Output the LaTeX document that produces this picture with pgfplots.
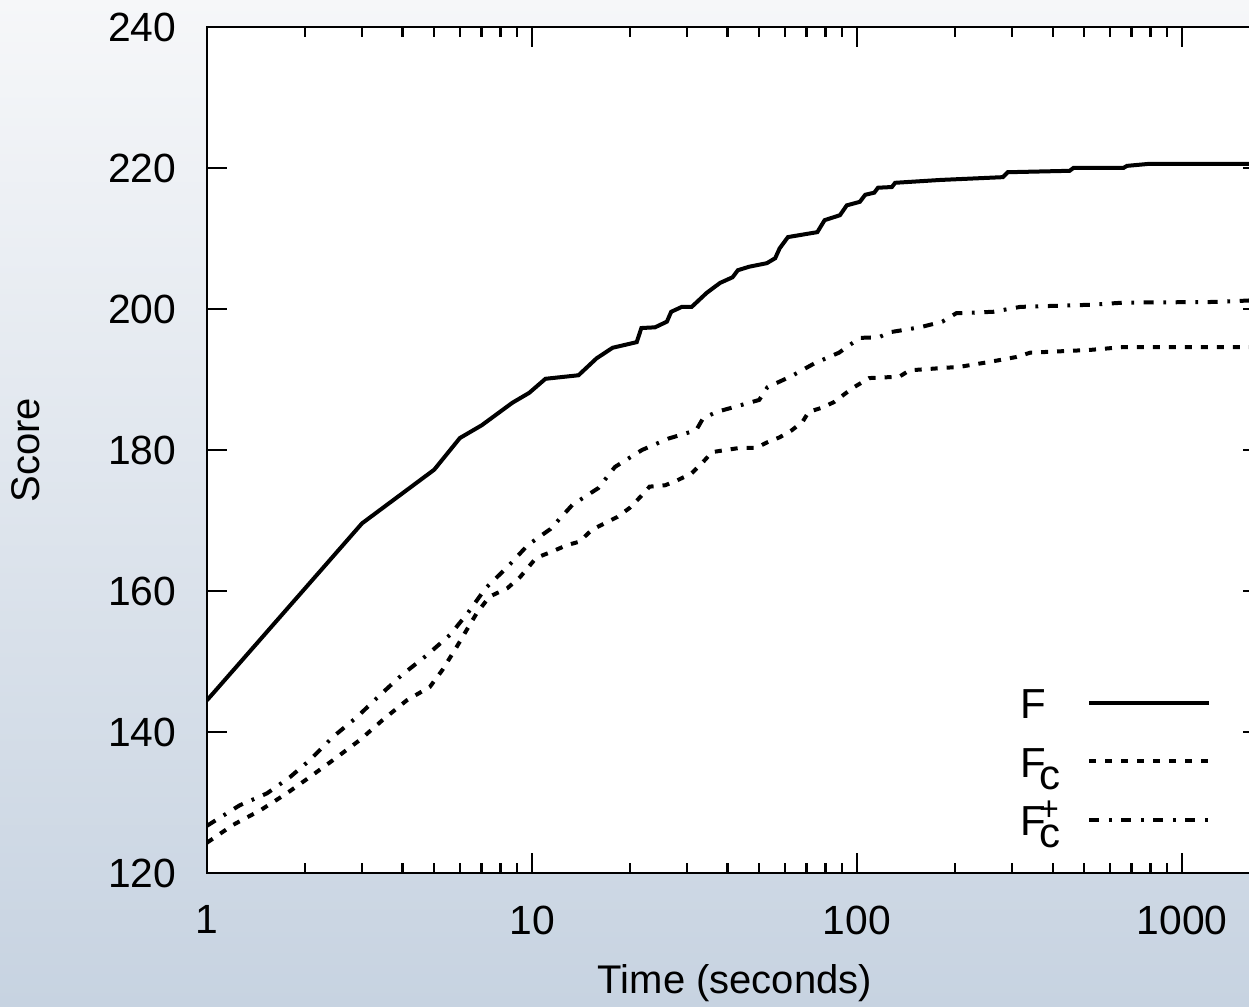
\documentclass[border=0pt]{standalone}
\usepackage{fontspec}
\setmainfont{Liberation Sans}
\usepackage{pgfplots}
\pgfplotsset{compat=1.18}
\usetikzlibrary{calc}
\pgfdeclarelayer{background}
\pgfsetlayers{background,main}
\definecolor{BgTop}{HTML}{F6F7F9}
\definecolor{BgMid}{HTML}{E4E9EF}
\definecolor{BgBot}{HTML}{C7D3E1}
% gnuplot-like lowered subscript / raised superscript
\newcommand{\Fc}{F\kern-1.7pt\raisebox{-3pt}{c}}
\newcommand{\Fcp}{F\kern-1.7pt\rlap{\raisebox{-3pt}{c}}\raisebox{3.8pt}{\fontsize{8.5}{10}\selectfont +}}

\begin{document}
\begin{tikzpicture}
\begin{axis}[
  name=ax,
  scale only axis,
  width=264pt,
  height=211.5pt,
  xmode=log,
  xmin=1, xmax=1775,
  ymin=120, ymax=240,
  axis background/.style={fill=white},
  axis line style={line width=0.7pt},
  every tick/.style={black, line width=0.6pt},
  tick align=inside,
  major tick length=5pt,
  minor tick length=2.5pt,
  xtick={1,10,100,1000},
  xticklabels={1,10,100,1000},
  ytick={120,140,...,240},
  /pgf/number format/assume math mode=true,
  tick label style={font=\fontsize{10.2}{12}\selectfont},
  xticklabel style={anchor=north, inner sep=0pt, yshift=-8pt},
  yticklabel style={anchor=east, inner sep=0pt, xshift=-7.5pt},
  xlabel={Time (seconds)},
  ylabel={Score},
  label style={font=\fontsize{10.5}{12}\selectfont},
  every axis x label/.style={at={(rel axis cs:0.5,0)}, anchor=base, yshift=-30pt},
  every axis y label/.style={at={([xshift=-41.75pt]rel axis cs:0,0.5)}, rotate=90, anchor=base},
  legend plot pos=right,
  legend cell align=left,
  legend image code/.code={\draw[#1] (0pt,3.75pt) -- (30pt,3.75pt);},
  legend style={
    at={(rel axis cs:0.9517,0.2187)}, anchor=north east,
    draw=none, fill=none, inner sep=0pt, row sep=0pt, column sep=6.75pt,
    font=\fontsize{10.5}{12}\selectfont,
    nodes={inner sep=0pt, text height=7.5pt, text depth=7.1pt},
  },
]
% F
\addplot[black, line width=1pt] coordinates {
(1,144.5) (3,169.6) (5,177.2) (6,181.7) (7,183.5) (8.7,186.7) (9.8,188.1)
(11,190.1) (13.9,190.6) (15.8,193.0) (17.7,194.5) (21,195.3) (21.7,197.3)
(23.9,197.4) (26,198.2) (26.8,199.6) (28.9,200.3) (31,200.3) (34.5,202.3)
(37.9,203.7) (41.4,204.5) (43,205.5) (46.6,206) (52.8,206.5) (56,207.2)
(57.8,208.6) (61.3,210.2) (75.5,210.9) (79.5,212.6) (88.6,213.3) (93,214.7)
(102,215.2) (106,216.2) (113,216.5) (116,217.2) (128,217.3) (131,217.9)
(180,218.3) (281,218.7) (291,219.4) (451,219.6) (463,220) (660,220)
(677,220.3) (797,220.6) (1775,220.6)};
\addlegendentry{F}
% F_c
\addplot[black, line width=1pt, dash pattern=on 1.75pt off 2.25pt] coordinates {
(1,124.3) (1.2,126.8) (1.46,128.9) (1.76,131.3) (2.07,133.6) (2.44,136)
(2.96,138.9) (3.47,141.7) (4.12,144.5) (4.85,146.4) (5.3,148.8) (5.87,152.1)
(6.3,154.5) (6.77,156.9) (7.4,159.2) (8.4,160.4) (9.2,162) (10.3,164.7)
(11.4,165.5) (12.8,166.5) (14,167) (15.3,168.7) (18.3,170.5) (20,171.8)
(21.5,173.3) (23,174.8) (25.7,175) (28,175.7) (31,176.7) (33.6,178.3)
(35.8,179.7) (43.6,180.3) (49,180.3) (53,181.1) (57.8,181.8) (63,182.8)
(68,184) (71,185.4) (78,186) (85,186.8) (97,188.8) (109,190.2) (135,190.4)
(145,191.3) (207,191.8) (234,192.2) (256,192.5) (310,193.2) (341,193.8)
(523,194.2) (660,194.6) (1775,194.6)};
\addlegendentry{\Fc}
% F_c^+
\addplot[black, line width=1pt, dash pattern=on 2.5pt off 2.4pt on 0.7pt off 2.4pt] coordinates {
(1,126.7) (1.26,129.6) (1.53,131.3) (1.8,133.6) (2.07,136) (2.44,139.3)
(2.89,142.1) (3.4,145.2) (3.98,148.1) (4.75,150.9) (5.6,153.8) (6.35,156.9)
(7.2,160.4) (8.4,163.4) (9.7,166.5) (11.4,168.8) (13.3,172.2) (16,174.6)
(18,177.6) (21.8,180) (26.2,181.6) (32,182.8) (33.6,184.5) (37,185.4)
(45,186.5) (50,187.1) (53,188.9) (63,190.5) (74,192.3) (88,193.8) (95,194.9)
(102,195.9) (117,196) (126,196.7) (156,197.4) (183,198.2) (202,199.4)
(262,199.6) (318,200.3) (523,200.6) (659,200.9) (1290,201) (1775,201.3)};
\addlegendentry{\Fcp}
\coordinate (SW) at (rel axis cs:0,0);
\coordinate (NE) at (rel axis cs:1,1);
\end{axis}
\begin{pgfonlayer}{background}
\shade[top color=BgTop, middle color=BgMid, bottom color=BgBot]
  ($(SW)+(-51.75pt,-33.25pt)$) rectangle ($(NE)+(-3.5pt,6.75pt)$);
\end{pgfonlayer}
\pgfresetboundingbox
\path ($(SW)+(-51.75pt,-33.25pt)$) rectangle ($(NE)+(-3.5pt,6.75pt)$);
\end{tikzpicture}
\end{document}
